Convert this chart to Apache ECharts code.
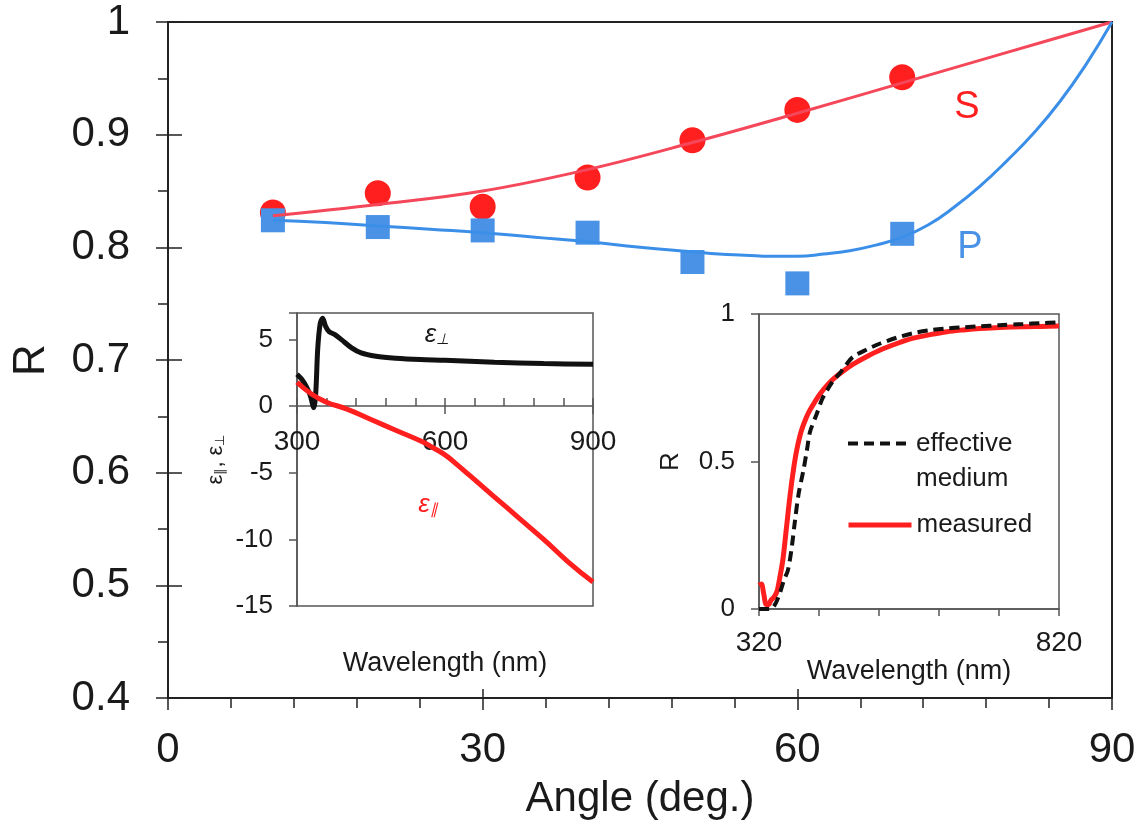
<!DOCTYPE html>
<html>
<head>
<meta charset="utf-8">
<script src="https://cdn.jsdelivr.net/npm/echarts@6/dist/echarts.min.js"></script>
<style>
  html, body { margin: 0; padding: 0; background: #fff; }
  #chart { width: 1144px; height: 826px; }
</style>
</head>
<body>
<div id="chart"></div>
<script>
// main panel: reflectance vs incidence angle
var angles = [10, 20, 30, 40, 50, 60, 70];
var sMeasured = [0.831, 0.848, 0.836, 0.862, 0.895, 0.922, 0.951];
var pMeasured = [0.824, 0.818, 0.815, 0.813, 0.787, 0.768, 0.812];

var sFitAngles = [10, 20, 30, 40, 50, 60, 70, 80, 90];
var sFit = [0.828, 0.838, 0.850, 0.869, 0.893, 0.919, 0.946, 0.973, 1.0];

var pFitAngles = [10, 15, 20, 25, 30, 35, 40, 45, 50, 52.5, 55, 57.5, 60, 62.5, 65, 67.5, 70, 72.5, 75, 77.5, 80, 82.5, 85, 87.5, 90];
var pFit = [0.824, 0.822, 0.819, 0.816, 0.813, 0.809, 0.805, 0.800, 0.796, 0.794, 0.793, 0.792, 0.792, 0.794, 0.797, 0.802, 0.809, 0.820, 0.836, 0.855, 0.877, 0.901, 0.929, 0.962, 1.0];

// left inset: permittivity components
var epsPerpWl = [300, 310, 320, 327, 334, 338, 342, 347, 352, 358, 365, 376, 390, 410, 430, 460, 500, 550, 600, 700, 800, 900];
var epsPerp = [2.4, 2.0, 1.4, 0.8, -0.1, 1.0, 4.3, 6.2, 6.6, 6.0, 5.6, 5.4, 5.0, 4.4, 4.0, 3.75, 3.6, 3.5, 3.45, 3.3, 3.2, 3.15];
var epsParWl = [300, 330, 360, 400, 450, 500, 550, 575, 600, 625, 650, 700, 750, 800, 850, 900];
var epsPar = [1.8, 0.9, 0.3, -0.2, -1.0, -1.8, -2.6, -3.1, -3.65, -4.4, -5.2, -6.8, -8.4, -10.0, -11.7, -13.2];

// right inset: normal incidence reflectance spectrum
var measWl = [320, 324, 328, 332, 336, 340, 345, 350, 355, 360, 366, 372, 378, 383, 390, 398, 405, 414, 422, 433, 444, 460, 477, 500, 522, 550, 577, 605, 633, 660, 688, 720, 760, 790, 820];
var measR = [0.08, 0.085, 0.05, 0.015, 0.015, 0.03, 0.04, 0.06, 0.11, 0.17, 0.28, 0.39, 0.48, 0.54, 0.6, 0.645, 0.675, 0.705, 0.73, 0.757, 0.78, 0.806, 0.83, 0.856, 0.878, 0.9, 0.918, 0.93, 0.94, 0.946, 0.951, 0.954, 0.957, 0.958, 0.959];
var emaWl = [320, 330, 340, 348, 355, 362, 368, 374, 380, 386, 394, 400, 405, 416, 425, 433, 444, 455, 466, 477, 500, 522, 550, 577, 605, 633, 660, 688, 720, 760, 790, 820];
var emaR = [0.0, 0.0, 0.0, 0.02, 0.055, 0.1, 0.13, 0.2, 0.3, 0.39, 0.47, 0.54, 0.6, 0.66, 0.71, 0.74, 0.775, 0.8, 0.83, 0.855, 0.88, 0.9, 0.92, 0.935, 0.945, 0.951, 0.955, 0.958, 0.962, 0.966, 0.969, 0.972];

function zip(xs, ys) {
  return xs.map(function (x, i) { return [x, ys[i]]; });
}

var FONT = '"Liberation Sans", Arial, sans-serif';
var INK = '#1a1a1a';
var RED = '#ff1f1f';
var BLUE = '#4a92e6';

// inset 1 x axis sits on eps = 0: shift it up from the grid bottom
var inset1Top = 313, inset1Height = 293, eMin = -15, eMax = 7;
var zeroOffset = -Math.round(inset1Height * (0 - eMin) / (eMax - eMin));

var chart = echarts.init(document.getElementById('chart'), null, { renderer: 'canvas' });

var option = {
  backgroundColor: '#fff',
  animation: false,
  textStyle: { fontFamily: FONT, color: INK },
  grid: [
    { left: 168, top: 22, width: 944, height: 676, show: true, borderColor: '#222', borderWidth: 2, outerBoundsMode: 'none' },
    { left: 297, top: inset1Top, width: 296, height: inset1Height, show: true, borderColor: '#555', borderWidth: 1.5, outerBoundsMode: 'none' },
    { left: 759, top: 314, width: 300, height: 295, show: true, borderColor: '#555', borderWidth: 1.5, outerBoundsMode: 'none' }
  ],
  xAxis: [
    {
      gridIndex: 0, type: 'value', min: 0, max: 90, interval: 30, position: 'bottom',
      axisLine: { lineStyle: { color: '#222', width: 2 } },
      axisTick: { length: 12, lineStyle: { color: '#222', width: 1.5 } },
      minorTick: { show: true, splitNumber: 5, length: 10, lineStyle: { color: '#222', width: 1.5 } },
      splitLine: { show: false },
      axisLabel: { fontSize: 42, margin: 31, color: INK, fontFamily: FONT },
      name: 'Angle (deg.)', nameLocation: 'middle', nameGap: 80,
      nameTextStyle: { fontSize: 42, color: INK, fontFamily: FONT }
    },
    {
      gridIndex: 0, type: 'value', min: 0, max: 90, interval: 30, position: 'bottom',
      axisLine: { show: false },
      axisTick: { inside: true, length: 9, lineStyle: { color: '#222', width: 1.5 } },
      axisLabel: { show: false }, splitLine: { show: false }
    },
    {
      gridIndex: 1, type: 'value', min: 300, max: 900, interval: 300, position: 'bottom',
      offset: zeroOffset,
      axisLine: { onZero: false, lineStyle: { color: '#555', width: 1.5 } },
      axisTick: { inside: true, length: 8, lineStyle: { color: '#555', width: 1.5 } },
      minorTick: { show: true, splitNumber: 5, length: 8, lineStyle: { color: '#555', width: 1.5 } },
      splitLine: { show: false },
      axisLabel: { fontSize: 28, margin: 22, color: INK, fontFamily: FONT },
      name: 'Wavelength (nm)', nameLocation: 'middle', nameGap: 244,
      nameTextStyle: { fontSize: 27, color: INK, fontFamily: FONT }
    },
    {
      gridIndex: 1, type: 'value', min: 300, max: 900, interval: 300, position: 'bottom',
      offset: zeroOffset,
      axisLine: { show: false, onZero: false },
      axisTick: { length: 8, lineStyle: { color: '#555', width: 1.5 } },
      axisLabel: { show: false }, splitLine: { show: false }
    },
    {
      gridIndex: 2, type: 'value', min: 320, max: 820, interval: 100, position: 'bottom',
      axisLine: { lineStyle: { color: '#555', width: 1.5 } },
      axisTick: { length: 7, lineStyle: { color: '#555', width: 1.5 } },
      splitLine: { show: false },
      axisLabel: {
        fontSize: 28, margin: 20, color: INK, fontFamily: FONT,
        formatter: function (v) { return (v === 320 || v === 820) ? String(v) : ''; }
      },
      name: 'Wavelength (nm)', nameLocation: 'middle', nameGap: 42,
      nameTextStyle: { fontSize: 27, color: INK, fontFamily: FONT }
    }
  ],
  yAxis: [
    {
      gridIndex: 0, type: 'value', min: 0.4, max: 1, interval: 0.1, position: 'left',
      axisLine: { lineStyle: { color: '#222', width: 2 } },
      axisTick: { length: 12, lineStyle: { color: '#222', width: 1.5 } },
      minorTick: { show: true, splitNumber: 2, length: 10, lineStyle: { color: '#222', width: 1.5 } },
      splitLine: { show: false },
      axisLabel: { fontSize: 42, margin: 38, color: INK, fontFamily: FONT },
      name: 'R', nameLocation: 'middle', nameGap: 114,
      nameTextStyle: { fontSize: 44, color: INK, fontFamily: FONT }
    },
    {
      gridIndex: 0, type: 'value', min: 0.4, max: 1, interval: 0.1, position: 'left',
      axisLine: { show: false },
      axisTick: { inside: true, length: 14, lineStyle: { color: '#222', width: 1.5 } },
      axisLabel: { show: false }, splitLine: { show: false }
    },
    {
      gridIndex: 1, type: 'value', min: eMin, max: eMax, interval: 5, position: 'left',
      axisLine: { lineStyle: { color: '#555', width: 1.5 } },
      axisTick: { length: 8, lineStyle: { color: '#555', width: 1.5 } },
      splitLine: { show: false },
      axisLabel: {
        fontSize: 26, margin: 24, color: INK, fontFamily: FONT,
        formatter: function (v) { return v === eMax ? '' : String(v); }
      },
      name: '{e|ε}{s|∥}{e|, ε}{s|⊥}', nameLocation: 'middle', nameGap: 70,
      nameTextStyle: {
        color: INK,
        rich: {
          e: { fontSize: 22, fontFamily: FONT, color: INK },
          s: { fontSize: 13, fontFamily: FONT, color: INK, verticalAlign: 'bottom', padding: [8, 0, 0, 0] }
        }
      }
    },
    {
      gridIndex: 2, type: 'value', min: 0, max: 1, interval: 0.5, position: 'left',
      axisLine: { lineStyle: { color: '#555', width: 1.5 } },
      axisTick: { length: 8, lineStyle: { color: '#555', width: 1.5 } },
      splitLine: { show: false },
      axisLabel: { fontSize: 26, margin: 24, color: INK, fontFamily: FONT },
      name: 'R', nameLocation: 'middle', nameGap: 75,
      nameTextStyle: { fontSize: 26, color: INK, fontFamily: FONT }
    }
  ],
  legend: [
    {
      // leading blank line keeps the icon level with the first text line
      data: ['effective medium'], left: 846, top: 391, orient: 'vertical',
      itemWidth: 63, itemHeight: 14, padding: 0,
      itemStyle: { opacity: 0 },
      lineStyle: { color: '#111', width: 4, type: [10, 6] },
      formatter: function () { return ' \neffective\nmedium'; },
      textStyle: { fontSize: 26, lineHeight: 35, color: INK, fontFamily: FONT }
    },
    {
      data: ['measured'], left: 846, top: 512, orient: 'vertical',
      itemWidth: 63, itemHeight: 14, padding: 0,
      itemStyle: { opacity: 0 },
      lineStyle: { color: RED, width: 5 },
      textStyle: { fontSize: 26, color: INK, fontFamily: FONT }
    }
  ],
  graphic: [
    { type: 'text', x: 967, y: 108, style: { text: 'S', fill: RED, font: '38px ' + FONT, align: 'center', verticalAlign: 'middle' } },
    { type: 'text', x: 970, y: 248, style: { text: 'P', fill: BLUE, font: '38px ' + FONT, align: 'center', verticalAlign: 'middle' } },
    {
      type: 'text', x: 437, y: 335,
      style: {
        text: '{e|ε}{s|⊥}', align: 'center', verticalAlign: 'middle',
        rich: {
          e: { fontSize: 26, fontStyle: 'italic', fontFamily: FONT, fill: INK },
          s: { fontSize: 15, fontStyle: 'italic', fontFamily: FONT, fill: INK, padding: [10, 0, 0, 0] }
        }
      }
    },
    {
      type: 'text', x: 428, y: 505,
      style: {
        text: '{e|ε}{s|∥}', align: 'center', verticalAlign: 'middle',
        rich: {
          e: { fontSize: 26, fontStyle: 'italic', fontFamily: FONT, fill: RED },
          s: { fontSize: 15, fontStyle: 'italic', fontFamily: FONT, fill: RED, padding: [10, 0, 0, 0] }
        }
      }
    }
  ],
  series: [
    {
      name: 'S', type: 'scatter', xAxisIndex: 0, yAxisIndex: 0, z: 2,
      symbol: 'circle', symbolSize: 26, itemStyle: { color: RED, opacity: 1 },
      data: zip(angles, sMeasured)
    },
    {
      name: 'P', type: 'scatter', xAxisIndex: 0, yAxisIndex: 0, z: 2,
      symbol: 'rect', symbolSize: 24, itemStyle: { color: BLUE, opacity: 1 },
      data: zip(angles, pMeasured)
    },
    {
      name: 'S fit', type: 'line', xAxisIndex: 0, yAxisIndex: 0, z: 3,
      smooth: 0.4, showSymbol: false, symbol: 'none',
      lineStyle: { color: '#f5475a', width: 3 },
      data: zip(sFitAngles, sFit)
    },
    {
      name: 'P fit', type: 'line', xAxisIndex: 0, yAxisIndex: 0, z: 3,
      smooth: 0.5, showSymbol: false, symbol: 'none',
      lineStyle: { color: '#3b8fe8', width: 3 },
      data: zip(pFitAngles, pFit)
    },
    {
      name: 'eps perp', type: 'line', xAxisIndex: 2, yAxisIndex: 2,
      smooth: 0.3, symbol: 'none', clip: true,
      lineStyle: { color: '#111', width: 5 },
      data: zip(epsPerpWl, epsPerp)
    },
    {
      name: 'eps par', type: 'line', xAxisIndex: 2, yAxisIndex: 2,
      smooth: 0.5, symbol: 'none', clip: true,
      lineStyle: { color: RED, width: 5 },
      data: zip(epsParWl, epsPar)
    },
    {
      name: 'effective medium', type: 'line', xAxisIndex: 4, yAxisIndex: 3,
      smooth: 0.3, symbol: 'none', clip: true, z: 3,
      itemStyle: { color: '#111' },
      lineStyle: { color: '#111', width: 4, type: [10, 6] },
      data: zip(emaWl, emaR)
    },
    {
      name: 'measured', type: 'line', xAxisIndex: 4, yAxisIndex: 3,
      smooth: 0.3, symbol: 'none', clip: true, z: 2,
      itemStyle: { color: RED },
      lineStyle: { color: RED, width: 5 },
      data: zip(measWl, measR)
    }
  ]
};

chart.setOption(option);
</script>
</body>
</html>
